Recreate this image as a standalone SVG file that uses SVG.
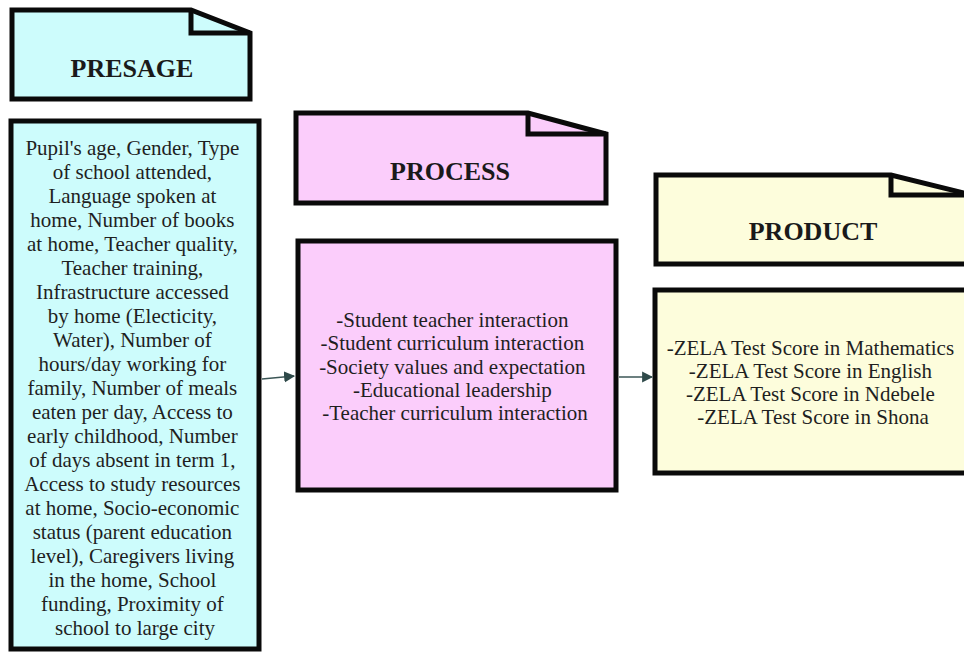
<svg xmlns="http://www.w3.org/2000/svg" width="964" height="653" viewBox="0 0 964 653">
<style>
.frame{stroke:#0a0a0a;stroke-width:5;stroke-linejoin:miter}
.fold{fill:none;stroke:#0a0a0a;stroke-width:5;stroke-linejoin:miter}
.cyan{fill:#cdfcfc}
.pink{fill:#fbcdfb}
.yellow{fill:#fdfddc}
.head{font-family:"Liberation Serif","Times New Roman",serif;font-weight:bold;font-size:26px;fill:#1a1a1a;text-anchor:middle}
.body{font-family:"Liberation Serif","Times New Roman",serif;font-size:21px;fill:#1f1f1f;text-anchor:middle}
.conn{stroke:#3b5656;stroke-width:1.6;fill:none}
</style>
<defs>
<marker id="arr" viewBox="0 0 10 10" refX="9" refY="5" markerWidth="11" markerHeight="13" markerUnits="userSpaceOnUse" orient="auto">
<path d="M0,0 L10,5 L0,10 Z" fill="#2f4a4a"/>
</marker>
</defs>
<rect width="964" height="653" fill="#ffffff"/>

<g id="presage-header">
<path class="frame cyan" d="M12,10 L191,10 L250,33 L250,99 L12,99 Z"/>
<path class="fold" d="M191,10 L191,33 L250,33"/>
<text class="head" x="132" y="77">PRESAGE</text>
</g>

<g id="presage">
<rect class="frame cyan" x="11" y="121" width="248" height="528"/>
<text class="body">
<tspan x="135" y="155">Pupil's age, Gender, Type</tspan>
<tspan x="135" y="179">of school attended,</tspan>
<tspan x="135" y="203">Language spoken at</tspan>
<tspan x="135" y="227">home, Number of books</tspan>
<tspan x="135" y="251">at home, Teacher quality,</tspan>
<tspan x="135" y="275">Teacher training,</tspan>
<tspan x="135" y="299">Infrastructure accessed</tspan>
<tspan x="135" y="323">by home (Electicity,</tspan>
<tspan x="135" y="347">Water), Number of</tspan>
<tspan x="135" y="371">hours/day working for</tspan>
<tspan x="135" y="395">family, Number of meals</tspan>
<tspan x="135" y="419">eaten per day, Access to</tspan>
<tspan x="135" y="443">early childhood, Number</tspan>
<tspan x="135" y="467">of days absent in term 1,</tspan>
<tspan x="135" y="491">Access to study resources</tspan>
<tspan x="135" y="515">at home, Socio-economic</tspan>
<tspan x="135" y="539">status (parent education</tspan>
<tspan x="135" y="563">level), Caregivers living</tspan>
<tspan x="135" y="587">in the home, School</tspan>
<tspan x="135" y="611">funding, Proximity of</tspan>
<tspan x="135" y="635">school to large city</tspan>
</text>
</g>

<g id="process-header">
<path class="frame pink" d="M296,113 L528,113 L606,134 L606,203 L296,203 Z"/>
<path class="fold" d="M528,113 L528,134 L606,134"/>
<text class="head" x="450" y="180">PROCESS</text>
</g>

<g id="process">
<rect class="frame pink" x="298" y="241" width="318" height="249"/>
<text class="body">
<tspan x="455" y="327">-Student teacher interaction</tspan>
<tspan x="455" y="350">-Student curriculum interaction</tspan>
<tspan x="455" y="374">-Society values and expectation</tspan>
<tspan x="455" y="397">-Educational leadership</tspan>
<tspan x="455" y="420">-Teacher curriculum interaction</tspan>
</text>
</g>

<g id="product-header">
<path class="frame yellow" d="M656,175 L891,175 L972,195 L972,264 L656,264 Z"/>
<path class="fold" d="M891,175 L891,195 L972,195"/>
<text class="head" x="813" y="240">PRODUCT</text>
</g>

<g id="product">
<rect class="frame yellow" x="655" y="290" width="317" height="183"/>
<text class="body">
<tspan x="813" y="355">-ZELA Test Score in Mathematics</tspan>
<tspan x="813" y="378">-ZELA Test Score in English</tspan>
<tspan x="813" y="401">-ZELA Test Score in Ndebele</tspan>
<tspan x="813" y="424">-ZELA Test Score in Shona</tspan>
</text>
</g>

<g id="connectors">
<line class="conn" x1="262" y1="379" x2="294" y2="376" marker-end="url(#arr)"/>
<line class="conn" x1="619" y1="377" x2="652" y2="377" marker-end="url(#arr)"/>
</g>
</svg>
